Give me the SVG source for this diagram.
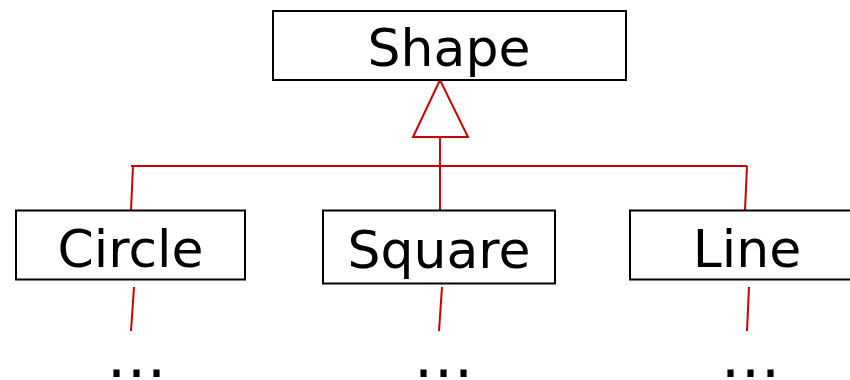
<svg xmlns="http://www.w3.org/2000/svg" width="850" height="380" viewBox="0 0 850 380">
<style>
.box{fill:#fff;stroke:#000;stroke-width:2}
.lbl{font-family:"DejaVu Sans",Verdana,sans-serif;font-size:52px;fill:#000;text-anchor:middle}
.dots{font-family:"DejaVu Sans",Verdana,sans-serif;font-size:60px;fill:#000;text-anchor:middle;letter-spacing:1px}
.c{fill:none;stroke:#cc0000;stroke-width:2}
</style>
<rect width="850" height="380" fill="#fff"/>
<g id="connectors">
<polygon class="c" points="440,80 413,137 468,137"/>
<line class="c" x1="440" y1="137" x2="440" y2="210"/>
<polyline class="c" points="131,166 133,166 131,210"/>
<line class="c" x1="131" y1="166" x2="747" y2="166"/>
<line class="c" x1="747" y1="166" x2="745" y2="210"/>
<line class="c" x1="134" y1="287" x2="131" y2="331"/>
<line class="c" x1="442" y1="287" x2="439" y2="331"/>
<line class="c" x1="749" y1="287" x2="747" y2="331"/>
</g>
<g id="shape">
<rect class="box" x="273" y="11" width="353" height="69"/>
<text class="lbl" x="449" y="66">Shape</text>
</g>
<g id="circle">
<rect class="box" x="16" y="210.5" width="229" height="69"/>
<text class="lbl" x="130.5" y="267">Circle</text>
</g>
<g id="square">
<rect class="box" x="323" y="210.5" width="232" height="73"/>
<text class="lbl" x="439" y="268">Square</text>
</g>
<g id="line">
<rect class="box" x="630" y="210.5" width="240" height="69"/>
<text class="lbl" x="747" y="267">Line</text>
</g>
<g id="dots">
<text class="dots" x="137" y="377">...</text>
<text class="dots" x="444" y="377">...</text>
<text class="dots" x="751" y="377">...</text>
</g>
</svg>
